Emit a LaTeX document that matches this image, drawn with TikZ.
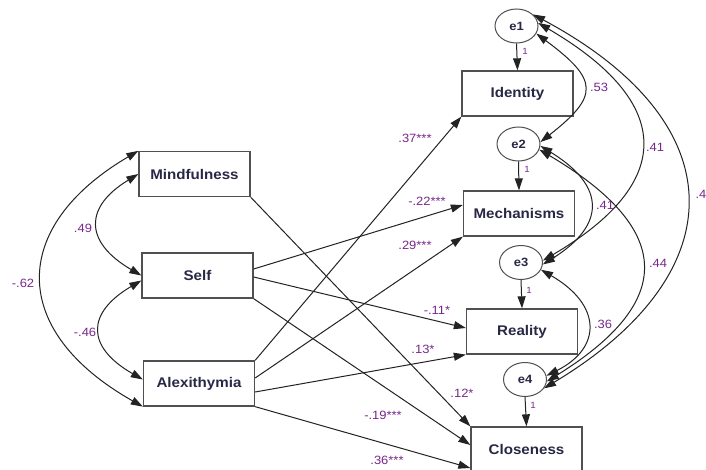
\documentclass[tikz,border=0pt]{standalone}
\usepackage{fontspec}
\setmainfont{Liberation Sans}[FakeStretch=1.08]
\usetikzlibrary{arrows.meta,shapes.geometric,calc}
\definecolor{lblcol}{RGB}{120,40,140}
\definecolor{txtcol}{RGB}{40,40,70}
\definecolor{boxcol}{RGB}{80,80,80}
\definecolor{linecol}{RGB}{35,35,35}
\begin{document}
\begin{tikzpicture}[x=1pt,y=-1pt,
  var/.style={draw=boxcol,line width=1.3pt,rectangle,minimum width=111pt,minimum height=45pt,inner sep=0pt,font=\fontsize{14}{16}\selectfont\bfseries,text=txtcol},
  err/.style={draw=boxcol,line width=1pt,ellipse,minimum width=43pt,minimum height=34pt,inner sep=0pt,font=\fontsize{12}{14}\selectfont\bfseries,text=txtcol},
  conn/.style={draw=linecol,line width=1pt,-{Triangle[length=12pt,width=8pt]}},
  cov/.style={draw=linecol,line width=1pt,{Triangle[length=12pt,width=8pt]}-{Triangle[length=12pt,width=8pt]}},
  lbl/.style={text=lblcol,font=\fontsize{12}{14}\selectfont,inner sep=0pt},
  one/.style={text=lblcol,font=\fontsize{9}{10}\selectfont,inner sep=0pt}]
\useasboundingbox (0,0) rectangle (706,470);
\clip (0,0) rectangle (706,470);
\fill[white] (0,0) rectangle (706,470);
% nodes
\node[var] (mind) at (194.5,174) {Mindfulness};
\node[var] (self) at (197.5,275.5) {Self};
\node[var] (alex) at (199,383.5) {Alexithymia};
\node[var] (iden) at (517.5,93.5) {Identity};
\node[var] (mech) at (519,213.5) {Mechanisms};
\node[var] (real) at (522,331.5) {Reality};
\node[var] (clos) at (526.5,449.5) {Closeness};
\node[err] (e1) at (516.5,26) {e1};
\node[err] (e2) at (518.5,144) {e2};
\node[err] (e3) at (521,262.5) {e3};
\node[err] (e4) at (525,379.5) {e4};
% regression paths
\draw[conn] (mind.south east) -- (clos.north west);
\draw[conn] ($(self.east)+(0,-6.5)$) -- ($(mech.west)+(0,-8.5)$);
\draw[conn] ($(self.east)+(0,1.5)$) -- ($(real.west)+(0,-3.5)$);
\draw[conn] (self.south east) -- ($(clos.west)+(0,-4.5)$);
\draw[conn] (alex.north east) -- (iden.south west);
\draw[conn] ($(alex.east)+(0,-5.5)$) -- (mech.south west);
\draw[conn] ($(alex.east)+(0,8.5)$) -- (real.south west);
\draw[conn] (alex.south east) -- ($(clos.west)+(0,18.5)$);
% error paths
\draw[conn] (e1.south) -- (iden.north);
\draw[conn] (e2.south) -- (mech.north);
\draw[conn] (e3.south) -- (real.north);
\draw[conn] (e4.south) -- (clos.north);
% covariances left
\draw[cov] (mind.west) .. controls (84,207) and (84,242) .. (self.west);
\draw[cov] ($(self.west)+(0,5)$) .. controls (86,313) and (86,347) .. ($(alex.west)+(0,-4)$);
\draw[cov] (mind.north west) .. controls (9,227) and (9,331) .. (alex.south west);
% covariances right
\draw[cov] (e1.-21) .. controls (599,80) and (599,96) .. (e2.5);
\draw[cov] (e1.8) .. controls (675,103) and (675,183) .. (e3.5);
\draw[cov] (e1.35) .. controls (736,123) and (736,273) .. (e4.-25);
\draw[cov] (e2.-5) .. controls (606,186) and (606,225) .. (e3.-5);
\draw[cov] (e2.-15) .. controls (675,230) and (675,302) .. (e4.-5);
\draw[cov] (e3.-20) .. controls (602,305) and (602,348) .. (e4.10);
% labels
\node[lbl] (l49) at (83,228) {.49};
\node[lbl] (l46) at (85,332) {-.46};
\node[lbl] (l62) at (23,283) {-.62};
\node[lbl] (l37) at (415,138) {.37***};
\node[lbl] (l22) at (427,201) {-.22***};
\node[lbl] (l29) at (415,245) {.29***};
\node[lbl] (l11) at (437,310) {-.11*};
\node[lbl] (l13) at (423,349) {.13*};
\node[lbl] (l12) at (462,393) {.12*};
\node[lbl] (l19) at (383,415) {-.19***};
\node[lbl] (l36b) at (387,460) {.36***};
\node[lbl] (l53) at (599,87) {.53};
\node[lbl] (l41a) at (655,147) {.41};
\node[lbl] (l4) at (701,194) {.4};
\node[lbl] (l41b) at (605,205) {.41};
\node[lbl] (l44) at (658,263) {.44};
\node[lbl] (l36) at (603,324) {.36};
\node[one] (o1) at (525,51) {1};
\node[one] (o2) at (527,169) {1};
\node[one] (o3) at (529,290) {1};
\node[one] (o4) at (533,405) {1};
\end{tikzpicture}
\end{document}
